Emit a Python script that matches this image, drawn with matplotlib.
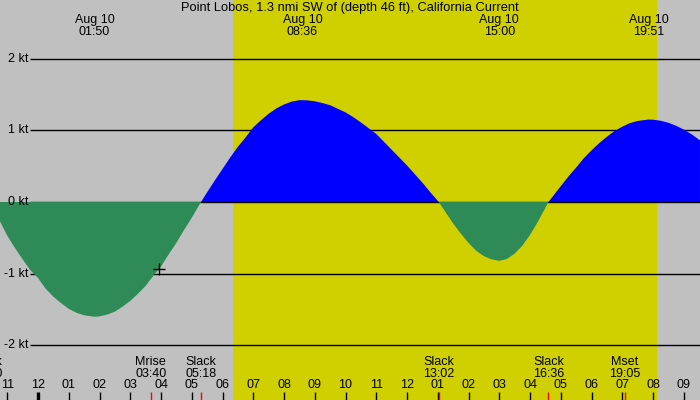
import matplotlib
matplotlib.use("Agg")
import matplotlib.pyplot as plt
from matplotlib.transforms import blended_transform_factory
import numpy as np

# ---------------- data ----------------
title = "Point Lobos, 1.3 nmi SW of (depth 46 ft), California Current"

# hours since midnight Aug 10 and current speed (kt)
hours = [-1.236, -1.0, -0.75, -0.5, -0.25, 0.0, 0.25, 0.5, 0.75, 1.0, 1.25,
         1.5, 1.833, 2.0, 2.25, 2.5, 2.75, 3.0, 3.25, 3.5, 3.75, 4.0, 4.25,
         4.5, 4.75, 5.0, 5.3, 5.5, 5.75, 6.0, 6.25, 6.5, 6.75, 7.0, 7.25, 7.5,
         7.75, 8.0, 8.25, 8.5, 8.6, 8.75, 9.0, 9.25, 9.5, 9.75, 10.0, 10.25,
         10.5, 10.75, 11.0, 11.25, 11.5, 11.75, 12.0, 12.25, 12.5, 12.75,
         13.033, 13.25, 13.5, 13.75, 14.0, 14.25, 14.5, 14.75, 15.0, 15.25,
         15.5, 15.75, 16.0, 16.25, 16.5, 16.6, 16.75, 17.0, 17.25, 17.5,
         17.75, 18.0, 18.25, 18.5, 18.75, 19.0, 19.25, 19.5, 19.85, 20.0,
         20.25, 20.5, 20.75, 21.0, 21.25, 21.528]
speed = [-0.27, -0.47, -0.64, -0.80, -0.95, -1.06, -1.21, -1.32, -1.41, -1.49,
         -1.545, -1.58, -1.60, -1.595, -1.57, -1.53, -1.46, -1.38, -1.28,
         -1.17, -1.03, -0.90, -0.73, -0.57, -0.39, -0.22, 0.0, 0.135, 0.30,
         0.46, 0.62, 0.77, 0.90, 1.04, 1.14, 1.23, 1.305, 1.36, 1.40, 1.42,
         1.42, 1.418, 1.405, 1.38, 1.35, 1.30, 1.25, 1.185, 1.11, 1.03, 0.95,
         0.84, 0.73, 0.62, 0.51, 0.39, 0.27, 0.14, 0.0, -0.14, -0.30, -0.44,
         -0.57, -0.68, -0.755, -0.80, -0.82, -0.795, -0.72, -0.61, -0.46,
         -0.28, -0.08, 0.0, 0.083, 0.22, 0.355, 0.48, 0.61, 0.72, 0.82, 0.91,
         0.99, 1.05, 1.10, 1.13, 1.15, 1.148, 1.133, 1.105, 1.064, 1.01, 0.946,
         0.86]

# max flood / ebb events (top labels)
peak_dates = ["Aug 10", "Aug 10", "Aug 10", "Aug 10"]
peak_times = ["01:50", "08:36", "15:00", "19:51"]

# bottom events
event_names = ["Slack", "Mrise", "Slack", "Slack", "Slack", "Mset"]
event_times = ["22:20", "03:40", "05:18", "13:02", "16:36", "19:05"]
event_day = [-1, 0, 0, 0, 0, 0]

# daylight
sunrise = "06:21"
sunset = "20:08"

# marker
mark_hour = [3.945]
mark_speed = [-0.934]

y_levels = [2, 1, 0, -1, -2]
y_labels = ["2 kt", "1 kt", "0 kt", "-1 kt", "-2 kt"]

hour_ticks = list(range(-1, 22))

# ---------------- helpers ----------------
def hm(s, day=0):
    h, m = s.split(":")
    return day * 24 + int(h) + int(m) / 60.0

X0 = 38.0       # pixel of midnight
PXH = 30.75     # pixels per hour
Y0 = 202.0      # pixel of 0 kt
PXK = 71.7      # pixels per kt
W, H = 700, 400

def xpx(p):
    return (p - X0) / PXH

def ypx(p):
    return 1 - p / H  # axes fraction

GRAY = "#c0c0c0"
YELLOW = "#d0d000"
BLUE = "#0000ff"
GREEN = "#2e8b57"
FONT = "Liberation Sans"
FS = 9

fig = plt.figure(figsize=(7, 4), dpi=100)
ax = fig.add_axes([0, 0, 1, 1])
ax.set_facecolor(GRAY)
ax.set_xlim(xpx(0), xpx(W))
ax.set_ylim((Y0 - H) / PXK, Y0 / PXK)
ax.axis("off")
ax.patch.set_visible(True)
fig.patch.set_facecolor(GRAY)

ax.axvspan(hm(sunrise), hm(sunset), color=YELLOW, zorder=0, lw=0)

# grid lines
for lv, lab in zip(y_levels, y_labels):
    ax.plot([xpx(30), xpx(W)], [lv, lv], color="black", lw=1.0,
            zorder=2.5 if lv == 0 else 1, solid_capstyle="butt")
    ax.text(xpx(28), lv, lab, ha="right", va="center", fontsize=FS,
            family=FONT, zorder=5)

hrs = np.array(hours)
spd = np.array(speed)
ax.fill_between(hrs, spd, 0, where=spd >= 0, interpolate=True, color=BLUE,
                lw=0, zorder=2)
ax.fill_between(hrs, spd, 0, where=spd <= 0, interpolate=True, color=GREEN,
                lw=0, zorder=3)

ax.plot(mark_hour, mark_speed, marker="+", color="black", ms=8, mew=1.0,
        ls="none", zorder=6)

bt = blended_transform_factory(ax.transData, ax.transAxes)

# title
ax.text(0.5, ypx(8.5), title, transform=ax.transAxes, ha="center", va="center",
        fontsize=9.3, family=FONT)

# top labels
for d, t in zip(peak_dates, peak_times):
    x = hm(t)
    ax.text(x, ypx(20), d, transform=bt, ha="center", va="center",
            fontsize=FS, family=FONT)
    ax.text(x, ypx(32), t, transform=bt, ha="center", va="center",
            fontsize=FS, family=FONT)

# bottom events
for n, t, dd in zip(event_names, event_times, event_day):
    x = hm(t, dd)
    ax.text(x, ypx(362), n, transform=bt, ha="center", va="center",
            fontsize=FS, family=FONT)
    ax.text(x, ypx(374), t, transform=bt, ha="center", va="center",
            fontsize=FS, family=FONT)
    ax.plot([x, x], [ypx(392), ypx(400)], transform=bt, color="red", lw=1.0,
            zorder=6, solid_capstyle="butt")

# hour ticks
for h in hour_ticks:
    lab = "%02d" % (((h - 1) % 12) + 1)
    ax.text(h, ypx(385), lab, transform=bt, ha="center", va="center",
            fontsize=FS, family=FONT)
    ax.plot([h, h], [ypx(392), ypx(400)], transform=bt, color="black",
            lw=2.4 if h % 24 == 0 else 1.0, zorder=5, solid_capstyle="butt")

fig.savefig("out.png", dpi=100, facecolor=GRAY)
